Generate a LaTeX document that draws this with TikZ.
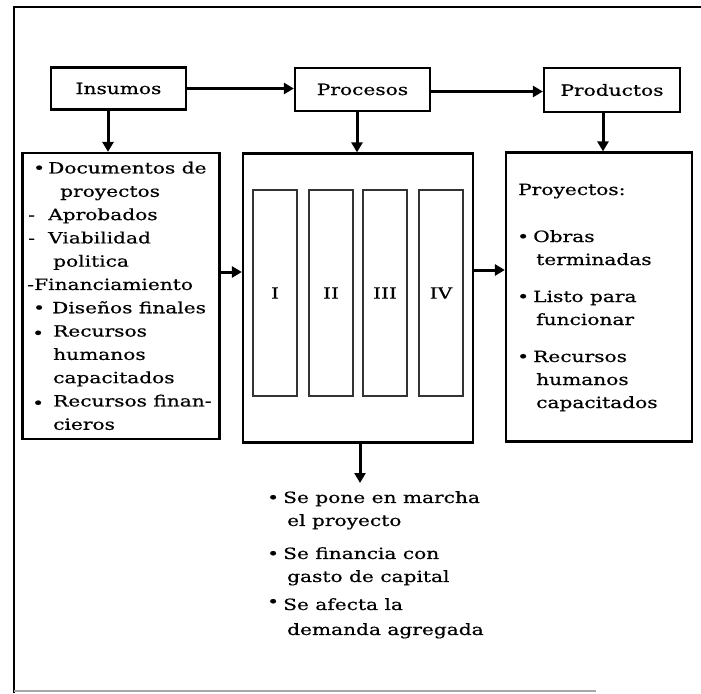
\documentclass[tikz,border=0pt]{standalone}
\usepackage{fontspec}
\setmainfont{DejaVu Serif}[FakeStretch=1.3, FakeBold=0.6]
\usetikzlibrary{arrows.meta}

\tikzset{
  headbox/.style={draw, line width=2.2pt, inner sep=0pt, minimum width=135pt, minimum height=42pt,
    font=\fontsize{15.5}{18}\selectfont},
  bigbox/.style={draw, line width=2.2pt, inner sep=0pt},
  stage/.style={draw, line width=1.1pt, draw=black!80, inner sep=0pt, minimum width=44pt, minimum height=206pt,
    font=\fontsize{15.5}{18}\selectfont},
  listtext/.style={anchor=north west, inner sep=0pt, align=left},
  arr/.style={line width=3pt, -{Triangle[length=10pt,width=11pt]}},
}

\begin{document}
\begin{tikzpicture}[x=1pt,y=-1pt]
  \useasboundingbox (0,0) rectangle (701,693);

  % outer frame (open on the right)
  \draw[line width=2.6pt] (14,693) -- (14,7) -- (701,7);
  \draw[line width=1.2pt, black!35] (14,691) -- (596,691);

  % top row
  \node[headbox] (ins) at (118.5,88.5) {Insumos};
  \node[headbox, minimum height=43pt] (pro) at (362.5,89.5) {Procesos};
  \node[headbox, minimum width=136pt, minimum height=44pt] (prd) at (612,90) {Productos};

  % large boxes
  \node[bigbox, minimum width=197pt, minimum height=286pt] (inp) at (121,296) {};
  \node[bigbox, minimum width=230pt, minimum height=289pt] (proc) at (358,298) {};
  \node[bigbox, minimum width=186pt, minimum height=289pt] (outp) at (599,297) {};

  % four stages inside the process box
  \node[stage] (s1) at (275,293) {I};
  \node[stage] (s2) at (331,293) {II};
  \node[stage] (s3) at (385,293) {III};
  \node[stage] (s4) at (441,293) {IV};

  % horizontal flow
  \draw[arr] (ins.east) -- (pro.west |- ins.east);
  \draw[arr] ([yshift=-2pt]pro.east) -- ([yshift=-2pt]pro.east -| prd.west);
  \draw[arr] ([yshift=24pt]inp.east) -- ([yshift=24pt]inp.east -| proc.west);
  \draw[arr] ([yshift=28pt]proc.east) -- ([yshift=28pt]proc.east -| outp.west);

  % vertical flow
  \draw[arr] ([xshift=-10.5pt]ins.south) -- ([xshift=-10.5pt]ins.south |- inp.north);
  \draw[arr] ([xshift=-5.5pt]pro.south) -- ([xshift=-5.5pt]pro.south |- proc.north);
  \draw[arr] ([xshift=-9pt]prd.south) -- ([xshift=-9pt]prd.south |- outp.north);
  \coordinate (effTop) at (360,483);
  \draw[arr] (proc.south -| effTop) -- (effTop);

  % inputs list
  \node[listtext, font=\fontsize{15.5}{23.3}\selectfont] (inlist) at (26,161.5) {%
    \makebox[22pt][l]{\hspace{7pt}•}Documentos de\\
    \hspace*{34pt}proyectos\\
    \makebox[22pt][l]{\hspace{2pt}-}Aprobados\\
    \makebox[22pt][l]{\hspace{2pt}-}Viabilidad\\
    \hspace*{27pt}politica\\
    \makebox[8pt][l]{\hspace{1pt}-}Financiamiento\\
    \makebox[26pt][l]{\hspace{7pt}•}Diseños finales\\
    \makebox[27pt][l]{\hspace{6pt}\raisebox{-2pt}{•}}Recursos\\
    \hspace*{27pt}humanos\\
    \hspace*{27pt}capacitados\\
    \makebox[27pt][l]{\hspace{6pt}\raisebox{-2pt}{•}}Recursos finan-\\
    \hspace*{27pt}cieros};

  % outputs list
  \node[listtext, font=\fontsize{15.5}{23}\selectfont] (outlist) at (516,183.5) {%
    \hspace*{2pt}Proyectos:\\[24pt]
    \makebox[17pt][l]{\hspace{1pt}•}Obras\\
    \hspace*{20pt}terminadas\\[14pt]
    \makebox[17pt][l]{\hspace{1pt}•}Listo para\\
    \hspace*{20pt}funcionar\\[14pt]
    \makebox[17pt][l]{\hspace{1pt}•}Recursos\\
    \hspace*{20pt}humanos\\
    \hspace*{20pt}capacitados};

  % effects list
  \node[listtext, font=\fontsize{15.5}{23}\selectfont] (efflist) at (267,491) {%
    \makebox[16pt][l]{•}Se pone en marcha\\
    \hspace*{20pt}el proyecto\\[10pt]
    \makebox[16pt][l]{•}Se financia con\\
    \hspace*{20pt}gasto de capital\\[5pt]
    \makebox[16pt][l]{\raisebox{3pt}{•}}Se afecta la\\[2pt]
    \hspace*{20pt}demanda agregada};
\end{tikzpicture}
\end{document}
